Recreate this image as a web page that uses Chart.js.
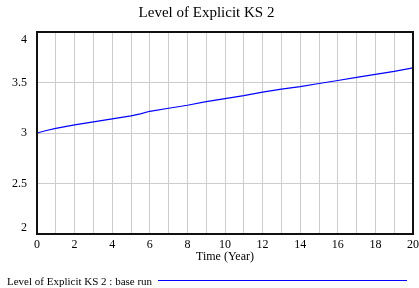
<!DOCTYPE html>
<html>
<head>
<meta charset="utf-8">
<script src="https://cdn.jsdelivr.net/npm/chart.js@4.4.1/dist/chart.umd.min.js"></script>
<style>
html,body{margin:0;padding:0;background:#fff;}
#wrap{position:relative;width:419px;height:288px;}
</style>
</head>
<body>
<div id="wrap"><canvas id="c" width="419" height="288"></canvas></div>
<script>
const chartTitle = "Level of Explicit KS 2";
const seriesLabel = "Level of Explicit KS 2 : base run";
const xTitle = "Time (Year)";
const times  = [0, 0.5, 1, 2, 3, 4, 5, 5.5, 6, 7, 8, 9, 10, 11, 12, 13, 14, 15, 16, 17, 18, 19, 20];
const values = [3.00, 3.025, 3.045, 3.08, 3.11, 3.14, 3.17, 3.19, 3.215, 3.245, 3.275, 3.31, 3.34, 3.37, 3.405, 3.435, 3.46, 3.49, 3.52, 3.55, 3.58, 3.61, 3.645];
const yTicks = [2, 2.5, 3, 3.5, 4];
const xLabelTicks = [0, 2, 4, 6, 8, 10, 12, 14, 16, 18, 20];

const SERIF = "'Liberation Serif', 'Times New Roman', serif";
const lineColor = '#0000ff';

const framePlugin = {
  id: 'frame',
  afterDraw(chart) {
    const ctx = chart.ctx, a = chart.chartArea;
    ctx.save();
    ctx.strokeStyle = '#111';
    ctx.lineWidth = 2;
    ctx.strokeRect(a.left, a.top, a.right - a.left, a.bottom - a.top);
    // y labels (end labels pulled inside, as in the reference)
    const ys = chart.scales.y;
    ctx.fillStyle = '#000';
    ctx.font = "12px " + SERIF;
    ctx.textAlign = 'right';
    ctx.textBaseline = 'middle';
    yTicks.forEach(v => {
      let py = ys.getPixelForValue(v);
      if (v === ys.max) py += 8;
      if (v === ys.min) py -= 6;
      ctx.fillText(String(v), a.left - 10, py);
    });
    // legend
    ctx.font = "11px " + SERIF;
    ctx.textAlign = 'left';
    ctx.fillText(seriesLabel, 7, 282);
    ctx.strokeStyle = chart.data.datasets[0].borderColor;
    ctx.lineWidth = 1;
    ctx.beginPath();
    ctx.moveTo(158, 280.5);
    ctx.lineTo(407, 280.5);
    ctx.stroke();
    ctx.restore();
  }
};

new Chart(document.getElementById('c'), {
  type: 'line',
  data: {
    datasets: [{
      label: seriesLabel,
      data: times.map((t, i) => ({x: t, y: values[i]})),
      borderColor: lineColor,
      borderWidth: 1.2,
      pointRadius: 0,
      tension: 0,
      fill: false
    }]
  },
  options: {
    responsive: false,
    animation: false,
    layout: {padding: {left: 0, right: 6, top: 0, bottom: 24}},
    plugins: {
      legend: {display: false},
      tooltip: {enabled: false},
      title: {
        display: true,
        text: chartTitle,
        color: '#000',
        font: {family: SERIF, size: 15, weight: 'normal'},
        padding: {top: 4, bottom: 10}
      }
    },
    scales: {
      x: {
        type: 'linear',
        min: 0, max: 20,
        ticks: {
          stepSize: 1,
          autoSkip: false,
          maxRotation: 0,
          color: '#000',
          padding: 4,
          font: {family: SERIF, size: 12},
          callback: v => xLabelTicks.includes(v) ? String(v) : ''
        },
        grid: {color: '#cccccc', lineWidth: 1, drawTicks: false},
        border: {display: false},
        title: {display: true, text: xTitle, color: '#000', font: {family: SERIF, size: 12}, padding: {top: 0, bottom: 0}},
        afterFit: s => { s.height = 30; s.paddingRight = 0; s.paddingLeft = 0; }
      },
      y: {
        min: 2, max: 4,
        ticks: {stepSize: 0.5, display: false},
        grid: {color: '#cccccc', lineWidth: 1, drawTicks: false},
        border: {display: false},
        afterFit: s => { s.width = 37; }
      }
    }
  },
  plugins: [framePlugin]
});
</script>
</body>
</html>
